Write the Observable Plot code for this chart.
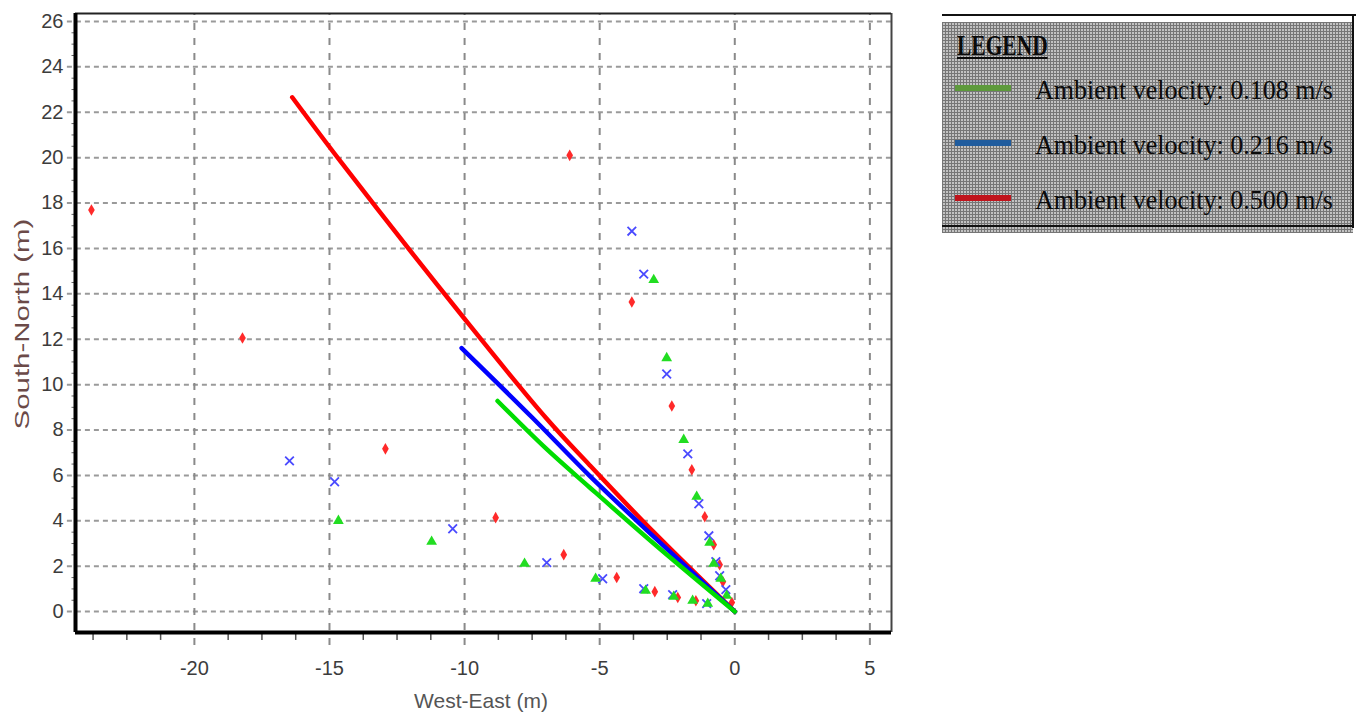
<!DOCTYPE html>
<html><head><meta charset="utf-8">
<script src="https://cdn.jsdelivr.net/npm/d3@7"></script>
<script src="https://cdn.jsdelivr.net/npm/@observablehq/plot@0.6"></script>
<style>
body{margin:0;background:#fff;width:1358px;height:719px;overflow:hidden;position:relative;font-family:"Liberation Sans",Arial,sans-serif;}
#chart{position:absolute;left:0;top:0;}
.abs{position:absolute;white-space:nowrap;}
#ytitle{left:22px;top:324px;font-size:21px;color:#6b4a48;transform:translate(-50%,-50%) rotate(-90deg) scaleX(1.4);}
#xtitle{left:481px;top:701px;font-size:21px;color:#555;transform:translate(-50%,-50%);}
#hatch{left:942px;top:22px;width:411px;height:211px;background-color:#c2c2c2;
 background-image:repeating-linear-gradient(0deg,#767676 0 1px,transparent 1px 3px),repeating-linear-gradient(90deg,#767676 0 1px,transparent 1px 3px);}
.lg{font-family:"Liberation Serif","Times New Roman",serif;color:#0a0a0a;line-height:1;transform-origin:0 0;}
</style></head><body>
<div id="chart"></div>
<div id="ytitle" class="abs">South-North (m)</div>
<div id="xtitle" class="abs">West-East (m)</div>
<div id="legend"></div>
<script>
// ---- data ----
const seriesNames = ["Ambient velocity: 0.108 m/s", "Ambient velocity: 0.216 m/s", "Ambient velocity: 0.500 m/s"];
const xTicks = [-20, -15, -10, -5, 0, 5];
const yTicks = [0, 2, 4, 6, 8, 10, 12, 14, 16, 18, 20, 22, 24, 26];
const xDomain = [-24.4, 5.8];
const yDomain = [-0.92, 26.35];

// centre-line trajectories (West-East, South-North)
const greenPath = [[0,0],[-3,3.0],[-5.37,5.47],[-7.0,7.2],[-8.78,9.28]];
const bluePath  = [[0,0],[-3,3.3],[-5.37,5.98],[-7.48,8.53],[-10.11,11.61]];
const redPath   = [[0,0],[-3,3.5],[-5.37,6.45],[-7.0,8.55],[-10.07,13.0],[-14.57,19.8],[-16.38,22.66]];

// scattered markers
const greenPts = [[-14.67,4.00],[-11.22,3.08],[-7.78,2.11],[-5.15,1.45],[-3.30,0.92],[-2.26,0.66],[-1.56,0.48],[-1.00,0.35],
  [-3.00,14.61],[-2.52,11.17],[-1.89,7.57],[-1.41,5.06],[-0.93,3.04],[-0.78,2.11],[-0.52,1.45],[-0.30,0.70]];
const bluePts = [[-16.48,6.64],[-14.81,5.72],[-10.44,3.65],[-6.96,2.16],[-4.89,1.45],[-3.37,1.01],[-2.30,0.75],[-1.04,0.35],
  [-3.81,16.76],[-3.37,14.87],[-2.52,10.47],[-1.74,6.95],[-1.33,4.75],[-0.96,3.34],[-0.70,2.20],[-0.56,1.58],[-0.33,0.97]];
const redPts = [[-23.81,17.69],[-18.22,12.05],[-12.93,7.17],[-8.85,4.14],[-6.33,2.51],[-4.37,1.50],[-2.96,0.88],[-2.11,0.62],[-1.44,0.48],
  [-6.11,20.1],[-3.81,13.64],[-2.33,9.06],[-1.59,6.25],[-1.11,4.18],[-0.78,2.95],[-0.56,2.07],[-0.44,1.32],[-0.11,0.40]];

const lineColors = ["#00dd00", "#0000ff", "#ff0000"];
const legendColors = ["#5e9a3c", "#1f5c9e", "#c0141c"];

// ---- chart ----
const xMinor = d3.range(-23.75, xDomain[1], 1.25).filter(v => Math.abs(v % 5) > 1e-6);
const yMinor = d3.range(0.5, yDomain[1], 0.5).filter(v => Math.abs(v % 2) > 1e-6);
const X = d => d[0], Y = d => d[1];

const chart = Plot.plot({
  width: 900, height: 719,
  marginLeft: 75, marginRight: 9, marginTop: 13, marginBottom: 87,
  style: {fontFamily: "'Liberation Sans', Arial, sans-serif", fontSize: "20px", color: "#3c3c3c", background: "white", overflow: "visible"},
  x: {domain: xDomain, ticks: xTicks, tickSize: 0, tickPadding: 28, label: null, tickFormat: d => String(d)},
  y: {domain: yDomain, ticks: yTicks, tickSize: 0, tickPadding: 12, label: null, tickFormat: d => String(d)},
  marks: [
    Plot.ruleY(yTicks, {x1: xDomain[0] - 0.3, x2: xDomain[1], stroke: "#9a9a9a", strokeWidth: 2, strokeDasharray: "5,4"}),
    Plot.ruleX(xTicks, {y1: yDomain[0] - 0.57, y2: yDomain[1], stroke: "#8a8a8a", strokeWidth: 2, strokeDasharray: "7,8"}),
    Plot.ruleX(xMinor, {y1: yDomain[0], y2: yDomain[0] - 0.35, stroke: "#555", strokeWidth: 1.5}),
    Plot.ruleY(yMinor, {x1: xDomain[0], x2: xDomain[0] - 0.13, stroke: "#666", strokeWidth: 1}),
    Plot.ruleX([xDomain[1]], {stroke: "#444", strokeWidth: 2}),
    Plot.ruleY([yDomain[1]], {stroke: "#222", strokeWidth: 2}),
    Plot.dot(redPts, {x: X, y: Y, symbol: "diamond", fill: "#ff2a2a", r: 3.5}),
    Plot.dot(bluePts, {x: X, y: Y, symbol: "times", stroke: "#4a4aff", strokeWidth: 1.8, r: 4}),
    Plot.dot(greenPts, {x: X, y: Y, symbol: "triangle", fill: "#22dd22", r: 4}),
    Plot.line(redPath, {x: X, y: Y, stroke: lineColors[2], strokeWidth: 4.5, curve: "catmull-rom"}),
    Plot.line(bluePath, {x: X, y: Y, stroke: lineColors[1], strokeWidth: 4.5, curve: "catmull-rom"}),
    Plot.line(greenPath, {x: X, y: Y, stroke: lineColors[0], strokeWidth: 4.5, curve: "catmull-rom"}),
    Plot.ruleX([xDomain[0]], {stroke: "#000", strokeWidth: 4}),
    Plot.ruleY([yDomain[0]], {stroke: "#000", strokeWidth: 4})
  ]
});
document.getElementById("chart").appendChild(chart);

// ---- legend ----
const lg = document.getElementById("legend");
function add(html, css, cls) {
  const el = document.createElement("div");
  el.className = "abs " + (cls || "");
  el.style.cssText = css;
  el.innerHTML = html;
  lg.appendChild(el);
  return el;
}
add("", "", "").id = "hatch";
add("", "left:942px;top:14px;width:414px;height:2px;background:#111;");
add("", "left:1352px;top:14px;width:2px;height:214px;background:#111;");
add("", "left:942px;top:225px;width:412px;height:2px;background:#111;");
add("LEGEND", "left:957px;top:31px;font-size:29px;font-weight:bold;text-decoration:underline;transform:scaleX(0.74);", "lg");
const rowY = [88, 143, 198];
seriesNames.forEach((name, i) => {
  add("", `left:955px;top:${rowY[i] - 3}px;width:56px;height:6px;background:${legendColors[i]};`);
  add(name, `left:1035px;top:${rowY[i] - 12.5}px;font-size:28px;transform:scaleX(0.93);`, "lg");
});
</script>
</body></html>
